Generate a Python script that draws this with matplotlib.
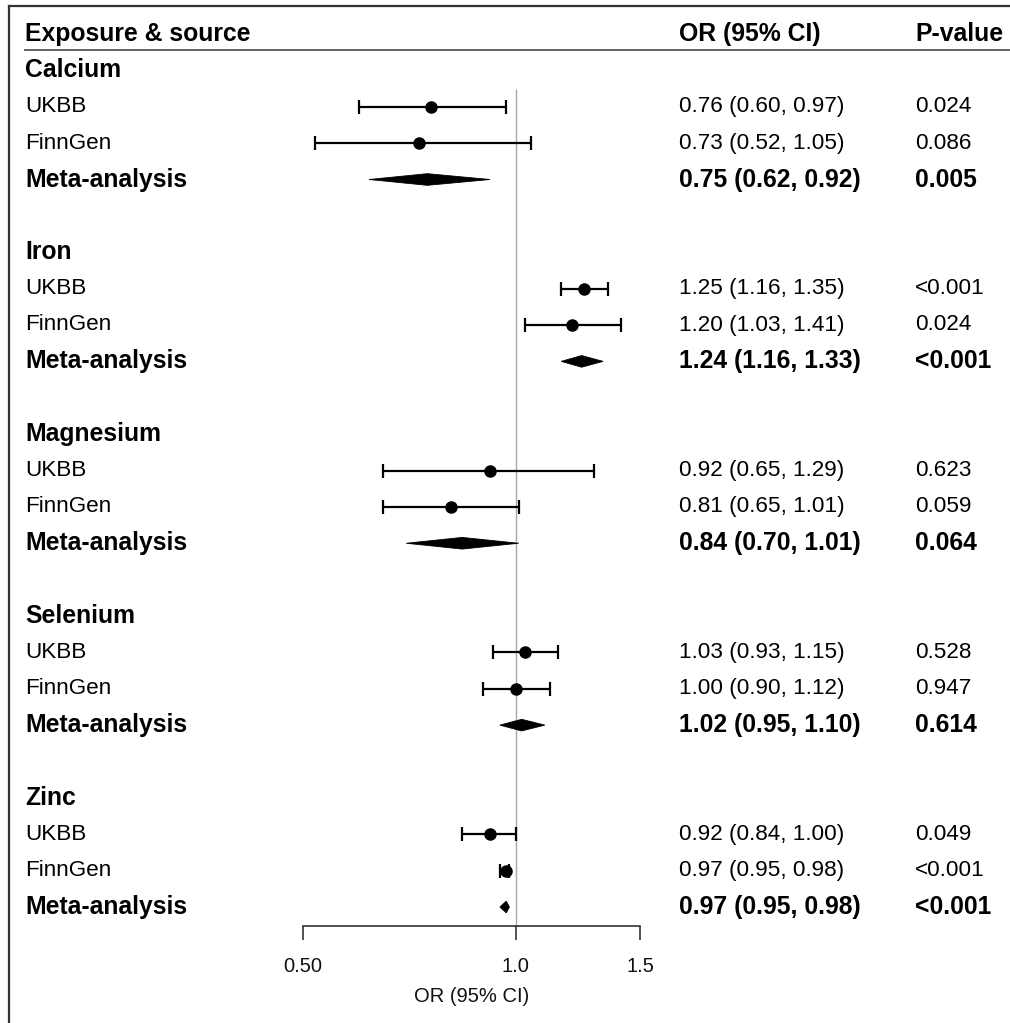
import matplotlib
matplotlib.use("Agg")
import matplotlib.pyplot as plt
import matplotlib.transforms as mtransforms
from matplotlib.patches import Polygon

plt.rcParams['font.family'] = ['Liberation Sans', 'DejaVu Sans']

# Exposures and sources
exposures = ["Calcium", "Iron", "Magnesium", "Selenium", "Zinc"]
sources = ["UKBB", "FinnGen", "Meta-analysis"]

# Odds ratios with 95% CI, per exposure: [UKBB, FinnGen, Meta-analysis]
or_est = [[0.76, 0.73, 0.75],
          [1.25, 1.20, 1.24],
          [0.92, 0.81, 0.84],
          [1.03, 1.00, 1.02],
          [0.92, 0.97, 0.97]]
ci_low = [[0.60, 0.52, 0.62],
          [1.16, 1.03, 1.16],
          [0.65, 0.65, 0.70],
          [0.93, 0.90, 0.95],
          [0.84, 0.95, 0.95]]
ci_high = [[0.97, 1.05, 0.92],
           [1.35, 1.41, 1.33],
           [1.29, 1.01, 1.01],
           [1.15, 1.12, 1.10],
           [1.00, 0.98, 0.98]]
p_values = [["0.024", "0.086", "0.005"],
            ["<0.001", "0.024", "<0.001"],
            ["0.623", "0.059", "0.064"],
            ["0.528", "0.947", "0.614"],
            ["0.049", "<0.001", "<0.001"]]

x_ticks = [0.5, 1.0, 1.5]
x_tick_labels = ["0.50", "1.0", "1.5"]

W, H = 1010, 1023
fig = plt.figure(figsize=(W / 100, H / 100), dpi=100)

axis_px = 926          # pixel row of the x axis line
row0_px = 34           # header row centre
pitch = 36.375         # pixels per row
y_bottom = (axis_px - row0_px) / pitch
y_top = -row0_px / pitch

ax_left, ax_right = 303, 640
ax = fig.add_axes([ax_left / W, 1 - axis_px / H, (ax_right - ax_left) / W, axis_px / H])
ax.set_xscale('log')
ax.set_xlim(0.5, 1.5)
ax.set_ylim(y_bottom, y_top)
ax.patch.set_alpha(0)
for s in ['top', 'right', 'left']:
    ax.spines[s].set_visible(False)
ax.spines['bottom'].set_linewidth(1.1)
ax.spines['bottom'].set_color('#222222')
ax.set_yticks([])
ax.set_xticks(x_ticks)
ax.set_xticklabels(x_tick_labels)
ax.xaxis.set_minor_locator(matplotlib.ticker.NullLocator())
ax.tick_params(axis='x', direction='out', length=10, width=1.1, color='#222222',
               pad=12, labelsize=14.5, labelcolor='#111111')

trans = mtransforms.blended_transform_factory(fig.transFigure, ax.transData)

label_x = 25 / W
or_x = 679 / W
p_x = 915 / W
fs = 16.2
fs_bold = 17.8

# Header
fig.text(label_x, 0, "Exposure & source", transform=trans, fontsize=fs_bold,
         fontweight='bold', va='center', ha='left')
fig.text(or_x, 0, "OR (95% CI)", transform=trans, fontsize=fs_bold,
         fontweight='bold', va='center', ha='left')
fig.text(p_x, 0, "P-value", transform=trans, fontsize=fs_bold,
         fontweight='bold', va='center', ha='left')

# Reference line at OR = 1
ax.vlines(1.0, 1.5, y_bottom, color='#a8a8a8', lw=1.0, zorder=1)

row = 1
for g, name in enumerate(exposures):
    fig.text(label_x, row, name, transform=trans, fontsize=fs_bold,
             fontweight='bold', va='center', ha='left')
    row += 1
    for k, src in enumerate(sources):
        est, lo, hi = or_est[g][k], ci_low[g][k], ci_high[g][k]
        meta = (k == 2)
        weight = 'bold' if meta else 'normal'
        size = fs_bold if meta else fs
        fig.text(label_x, row, src, transform=trans, fontsize=size,
                 fontweight=weight, va='center', ha='left')
        fig.text(or_x, row, f"{est:.2f} ({lo:.2f}, {hi:.2f})", transform=trans,
                 fontsize=size, fontweight=weight, va='center', ha='left')
        fig.text(p_x, row, p_values[g][k], transform=trans, fontsize=size,
                 fontweight=weight, va='center', ha='left')
        if meta:
            h = 0.16
            diamond = Polygon([[lo, row], [est, row - h], [hi, row], [est, row + h]],
                              closed=True, facecolor='black', edgecolor='black',
                              lw=0.6, zorder=3)
            ax.add_patch(diamond)
        else:
            ax.errorbar([est], [row], xerr=[[est - lo], [hi - est]], fmt='o',
                        color='black', ms=8, lw=1.6, capsize=4.7, capthick=1.6,
                        zorder=3)
        row += 1
    row += 1

# X axis title
fig.text(471.5 / W, 1 - 996 / H, "OR (95% CI)", fontsize=14.5, ha='center',
         va='center', color='#111111')

# Header rule and frame
fig.add_artist(plt.Line2D([25 / W, 1.0], [1 - 50 / H, 1 - 50 / H],
                          transform=fig.transFigure, color='#555555', lw=1.3))
fig.add_artist(plt.Line2D([9 / W, 1.0], [1 - 6 / H, 1 - 6 / H],
                          transform=fig.transFigure, color='#333333', lw=1.6))
fig.add_artist(plt.Line2D([9 / W, 9 / W], [0, 1 - 6 / H],
                          transform=fig.transFigure, color='#333333', lw=1.6))

fig.savefig("out.png", dpi=100)
